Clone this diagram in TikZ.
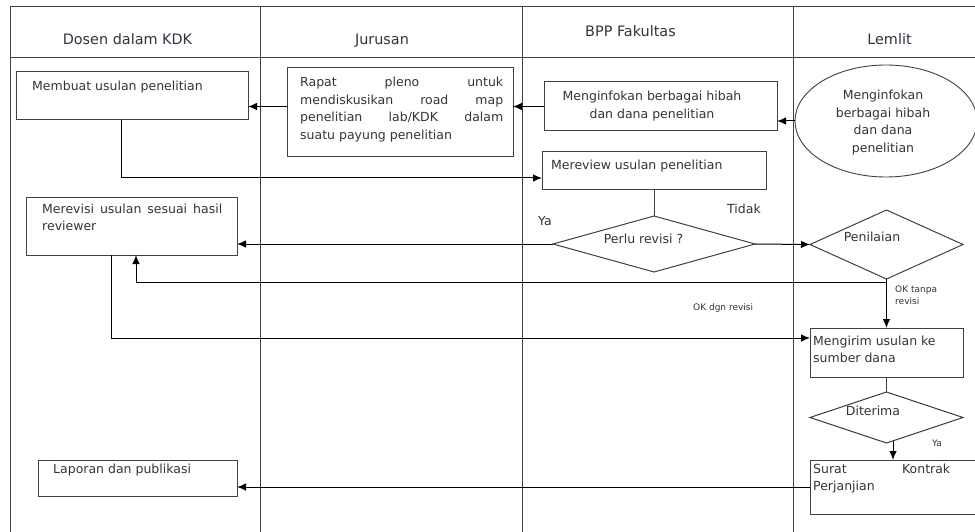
\documentclass[tikz,border=0pt]{standalone}
\usepackage{fontspec}
\setmainfont{DejaVu Sans}
\usetikzlibrary{arrows.meta}
\usetikzlibrary{shapes.geometric}
\definecolor{ink}{HTML}{33333F}
\definecolor{rule}{HTML}{404040}
\tikzset{%
	lane/.style={rule,line width=1pt},
	box/.style={draw=rule,line width=1pt,rectangle,inner sep=0pt,outer sep=0pt},
	decision/.style={draw=rule,line width=1pt,diamond,inner sep=0pt,outer sep=0pt},
	terminal/.style={draw=rule,line width=0.9pt,ellipse,inner sep=0pt,outer sep=0pt},
	flow/.style={->,>={Latex[length=9pt,width=7.5pt]},black,line width=1pt},
	link/.style={rule,line width=1pt},
	txt/.style={ink,inner sep=0pt,font=\fontsize{12.5}{17.5}\selectfont},
	head/.style={ink,inner sep=0pt,font=\fontsize{14.4}{17}\selectfont},
	note/.style={ink,inner sep=0pt,font=\fontsize{9}{12.5}\selectfont},
}

\begin{document}
\begin{tikzpicture}[x=1pt,y=-1pt]
			\useasboundingbox (0,0) rectangle (975,532);
			\fill[white] (0,0) rectangle (975,532);
			
			%jalur
			\draw[lane] (10,7) -- (975,7);
			\draw[lane] (10,58) -- (975,58);
			\foreach \x in {10,260,522,793}
				\draw[lane] (\x,7) -- (\x,532);
			\node[head,anchor=base] (h-dosen) at (127.5,45) {Dosen dalam KDK};
			\node[head,anchor=base] (h-jurusan) at (382,45) {Jurusan};
			\node[head,anchor=base] (h-bpp) at (630.5,36.5) {BPP Fakultas};
			\node[head,anchor=base] (h-lemlit) at (889.5,45) {Lemlit};
			
			%kotak
			\node[box,minimum width=232,minimum height=48] (membuat) at (132,96) {};
			\node[box,minimum width=226,minimum height=89] (rapat) at (400,112.5) {};
			\node[box,minimum width=233,minimum height=49] (bppinfo) at (660.5,106.5) {};
			\node[terminal,minimum width=182,minimum height=112] (lemlit) at (886,121) {};
			\node[box,minimum width=224,minimum height=38] (mereview) at (654,171) {};
			\node[decision,minimum width=202,minimum height=56] (perlu) at (654,244) {};
			\node[decision,minimum width=153,minimum height=69] (penilaian) at (886.5,244.5) {};
			\node[box,minimum width=211,minimum height=58] (merevisi) at (131.5,226) {};
			\node[box,minimum width=153,minimum height=49] (mengirim) at (886.5,352.5) {};
			\node[decision,minimum width=153,minimum height=51] (diterima) at (886.5,417.5) {};
			\node[box,minimum width=185,minimum height=54] (surat) at (902.5,487) {};
			\node[box,minimum width=199,minimum height=36] (laporan) at (137.5,478) {};
			
			%teks (baris terakhir pada base)
			\node[txt,anchor=base west] (membuat-t) at (32,91) {Membuat usulan penelitian};
			\node[txt,anchor=base west,align=left] (rapat-t) at (300,139.5) {\makebox[203pt][s]{Rapat pleno untuk}\\\makebox[203pt][s]{mendiskusikan road map}\\\makebox[203pt][s]{penelitian lab/KDK dalam}\\suatu payung penelitian};
			\node[txt,anchor=base,align=center] (bppinfo-t) at (652,118.5) {Menginfokan berbagai hibah\\dan dana penelitian};
			\node[txt,anchor=base,align=center] (lemlit-t) at (883,152.5) {Menginfokan\\berbagai hibah\\dan dana\\penelitian};
			\node[txt,anchor=base west] (mereview-t) at (551,170) {Mereview usulan penelitian};
			\node[txt,anchor=base] (perlu-t) at (643.5,243) {Perlu revisi ?};
			\node[txt,anchor=base] (penilaian-t) at (872,241) {Penilaian};
			\node[txt,anchor=base west,align=left] (merevisi-t) at (42,230.5) {\makebox[180pt][s]{Merevisi usulan sesuai hasil}\\reviewer};
			\node[txt,anchor=base west,align=left] (mengirim-t) at (813,362.5) {Mengirim usulan ke\\sumber dana};
			\node[txt,anchor=base] (diterima-t) at (873,415) {Diterima};
			\node[txt,anchor=base west,align=left] (surat-t) at (813,490.5) {\makebox[137pt][s]{Surat Kontrak}\\Perjanjian};
			\node[txt,anchor=base west] (laporan-t) at (53,473) {Laporan dan publikasi};
			\node[txt,anchor=base] (ya-perlu) at (545,225) {Ya};
			\node[txt,anchor=base] (tidak-perlu) at (744,213) {Tidak};
			\node[note,anchor=base west,align=left] (ok-tanpa) at (895,304.5) {OK tanpa\\revisi};
			\node[note,anchor=base west] (ok-dgn) at (693,310) {OK dgn revisi};
			\node[note,anchor=base west] (ya-diterima) at (932,446) {Ya};
			
			%alur
			\draw[flow] (lemlit.west) -- (lemlit.west -| bppinfo.east);
			\draw[flow] (bppinfo.west) -- (bppinfo.west -| rapat.east);
			\draw[flow] (rapat.west |- bppinfo.west) -- (membuat.east |- bppinfo.west);
			\draw[flow] ([xshift=-11pt]membuat.south) |- ([yshift=-7pt]mereview.west);
			\draw[link] (mereview.south) -- (perlu.north);
			\draw[flow] (perlu.west) -- (perlu.west -| merevisi.east);
			\draw[flow] (perlu.east) -- (penilaian.west);
			\draw[flow] (penilaian.south) -- (mengirim.north);
			\draw[flow] ([yshift=-3pt]penilaian.south) -| ([xshift=4.5pt]merevisi.south);
			\draw[flow] ([xshift=-20.5pt]merevisi.south) |- ([yshift=14.5pt]mengirim.west);
			\draw[link] (mengirim.south) -- (diterima.north);
			\draw[flow] ([xshift=6.5pt,yshift=2pt]diterima.south) -- ([xshift=6.5pt]diterima.south |- surat.north);
			\draw[flow] (surat.west) -- (surat.west -| laporan.east);
		\end{tikzpicture}
\end{document}
